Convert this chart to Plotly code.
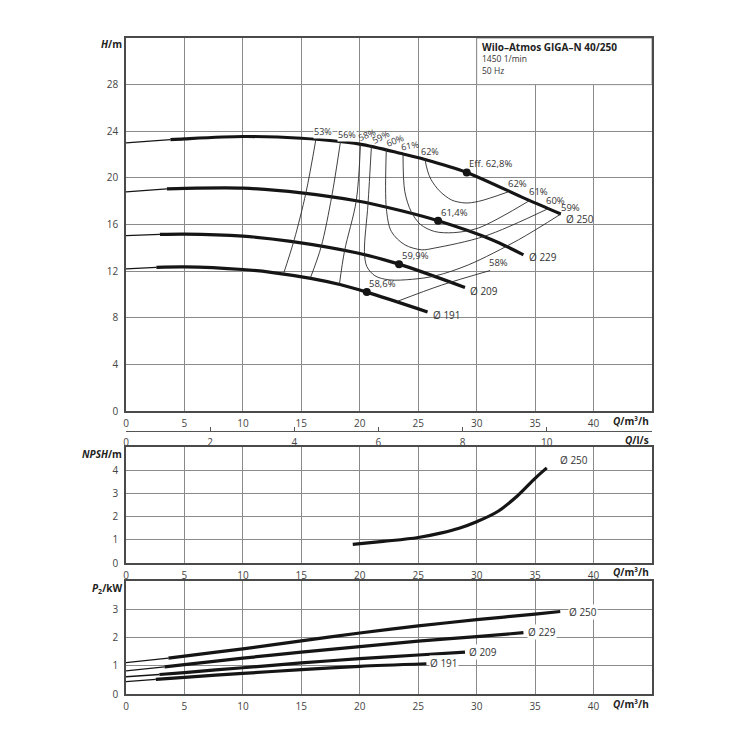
import plotly.graph_objects as go

# ---------------- data ----------------
# Head curves H(Q); index 1 is where the thick (operating) part starts
q250 = [0, 3.8, 5, 10, 15, 20, 23.7, 25.5, 29.15, 34.2, 37.2]
h250 = [23.0, 23.28, 23.35, 23.55, 23.4, 22.9, 22.05, 21.6, 20.47, 18.2, 16.9]
q229 = [0, 3.5, 5, 10, 15, 19.7, 23.56, 26.7, 31.3, 34.0]
h229 = [18.8, 19.05, 19.1, 19.12, 18.72, 18.04, 17.18, 16.32, 14.7, 13.4]
q209 = [0, 2.9, 5, 10, 14.1, 19.8, 23.36, 29.0]
h209 = [15.05, 15.15, 15.18, 15.0, 14.55, 13.55, 12.6, 10.6]
q191 = [0, 2.6, 5, 10, 12.4, 15.8, 18.3, 20.6, 25.8]
h191 = [12.2, 12.33, 12.37, 12.14, 11.9, 11.38, 10.85, 10.2, 8.5]

diam_labels = ["Ø 250", "Ø 229", "Ø 209", "Ø 191"]

# best-efficiency points
bep_q = [29.15, 26.7, 23.36, 20.6]
bep_h = [20.47, 16.32, 12.6, 10.2]
bep_txt = ["Eff. 62,8%", "61,4%", "59,9%", "58,6%"]

# iso-efficiency lines
eff53_q = [16.25, 15.39, 14.39, 13.47]
eff53_h = [23.33, 18.7, 14.69, 11.75]
eff56_q = [18.34, 17.6, 16.7, 15.76]
eff56_h = [23.05, 18.4, 14.1, 11.38]
eff58a_q = [20.06, 19.7, 18.7, 18.26]
eff58a_h = [22.9, 18.04, 13.75, 10.88]
eff58b_q = [23.2, 27.0, 31.15]
eff58b_h = [9.4, 10.8, 12.05]
eff59_q = [21.0, 20.7, 20.4, 20.6, 21.3, 22.5, 24.5, 26.5, 29.3, 33.6, 37.2]
eff59_h = [22.8, 17.7, 13.7, 12.4, 11.6, 11.25, 11.3, 11.6, 12.54, 14.7, 16.9]
eff60_q = [22.27, 22.27, 22.7, 23.85, 25.3, 26.4, 30.7, 36.2]
eff60_h = [22.45, 17.41, 15.4, 14.26, 13.83, 13.98, 15.0, 17.4]
eff61_q = [23.7, 23.85, 24.4, 25.2, 26.4, 28.0, 30.15, 34.6]
eff61_h = [22.05, 18.84, 17.1, 16.0, 15.4, 15.3, 15.7, 18.1]
eff62_q = [25.56, 25.8, 26.1, 26.8, 27.86, 29.0, 30.15, 32.7]
eff62_h = [21.65, 20.6, 19.85, 18.9, 18.1, 17.85, 17.98, 18.8]

# NPSH (Ø 250)
npsh_q = [19.4, 22.0, 25.0, 27.0, 28.5, 30.0, 31.8, 33.5, 35.0, 36.0]
npsh_v = [0.8, 0.93, 1.1, 1.3, 1.5, 1.78, 2.22, 2.9, 3.65, 4.1]

# Power P2; index 1 is where the thick part starts
p250_q = [0, 3.63, 5, 10, 15, 20, 25, 30, 35, 37.15]
p250_v = [1.11, 1.27, 1.34, 1.6, 1.88, 2.16, 2.41, 2.63, 2.83, 2.92]
p229_q = [0, 3.3, 5, 10, 15, 20, 25, 30, 34.0]
p229_v = [0.82, 0.96, 1.04, 1.27, 1.48, 1.68, 1.87, 2.03, 2.17]
p209_q = [0, 2.86, 5, 10, 15, 20, 25, 29.0]
p209_v = [0.61, 0.69, 0.76, 0.93, 1.1, 1.25, 1.38, 1.48]
p191_q = [0, 2.55, 5, 10, 15, 20, 25.7]
p191_v = [0.44, 0.52, 0.59, 0.73, 0.86, 0.98, 1.07]

q_ticks = [0, 5, 10, 15, 20, 25, 30, 35, 40]
h_ticks = [0, 4, 8, 12, 16, 20, 24, 28]
npsh_ticks = [0, 1, 2, 3, 4]
p_ticks = [0, 1, 2, 3]
ls_ticks = [0, 2, 4, 6, 8, 10]

# ---------------- figure ----------------
FONT = "Open Sans"
TXT = "#333333"
CURVE = "#151515"
GRID = "#8a8a8a"
FRAME = "#4a4a4a"

fig = go.Figure()


def curve(qs, vs, xa, ya):
    fig.add_trace(go.Scatter(x=qs[:2], y=vs[:2], mode="lines", xaxis=xa, yaxis=ya,
                             line=dict(color=CURVE, width=1.3, shape="spline"),
                             hoverinfo="skip", showlegend=False))
    fig.add_trace(go.Scatter(x=qs[1:], y=vs[1:], mode="lines", xaxis=xa, yaxis=ya,
                             line=dict(color=CURVE, width=3.2, shape="spline", smoothing=0.8),
                             hoverinfo="skip", showlegend=False))


for qs, hs in [(q250, h250), (q229, h229), (q209, h209), (q191, h191)]:
    curve(qs, hs, "x", "y")

for qs, hs in [(eff53_q, eff53_h), (eff56_q, eff56_h), (eff58a_q, eff58a_h), (eff58b_q, eff58b_h),
               (eff59_q, eff59_h), (eff60_q, eff60_h), (eff61_q, eff61_h), (eff62_q, eff62_h)]:
    fig.add_trace(go.Scatter(x=qs, y=hs, mode="lines", xaxis="x", yaxis="y",
                             line=dict(color="#2a2a2a", width=0.9, shape="spline", smoothing=0.9),
                             hoverinfo="skip", showlegend=False))

fig.add_trace(go.Scatter(x=bep_q, y=bep_h, mode="markers", xaxis="x", yaxis="y",
                         marker=dict(color=CURVE, size=8), hoverinfo="skip", showlegend=False))

# NPSH
fig.add_trace(go.Scatter(x=npsh_q, y=npsh_v, mode="lines", xaxis="x2", yaxis="y2",
                         line=dict(color=CURVE, width=3.2, shape="spline"),
                         hoverinfo="skip", showlegend=False))

# Power
for qs, vs in [(p250_q, p250_v), (p229_q, p229_v), (p209_q, p209_v), (p191_q, p191_v)]:
    curve(qs, vs, "x3", "y3")

# empty trace so that the l/s axis is drawn
fig.add_trace(go.Scatter(x=[0], y=[0], mode="lines", xaxis="x4", yaxis="y",
                         line=dict(width=0), hoverinfo="skip", showlegend=False))

# ---------------- annotations ----------------
ann = []


def txt(x, y, s, xref="x", yref="y", size=9.5, xanchor="center", angle=0, bg=None, color=TXT):
    d = dict(x=x, y=y, text=s, xref=xref, yref=yref, showarrow=False, xanchor=xanchor,
             yanchor="middle", textangle=angle, font=dict(family=FONT, size=size, color=color))
    if bg:
        d["bgcolor"] = bg
        d["borderpad"] = 0
    ann.append(d)


# top labels of iso-efficiency lines
top_lbl = [("53%", 16.83, 23.94, 0, "white"), ("56%", 18.92, 23.72, 0, "white"),
           ("58%", 20.65, 23.7, -22, None), ("59%", 21.85, 23.52, -28, None),
           ("60%", 23.0, 23.22, -22, None), ("61%", 24.3, 22.8, -10, None),
           ("62%", 26.0, 22.28, 0, None)]
for s, x, y, a, bg in top_lbl:
    txt(x, y, s, angle=a, bg=bg, size=9)

# right-end efficiency labels
for s, x, y in [("62%", 33.5, 19.56), ("61%", 35.3, 18.79), ("60%", 36.74, 18.04),
                ("59%", 38.03, 17.5), ("58%", 31.87, 12.77)]:
    txt(x, y, s)

# BEP labels
for s, x, y in zip(bep_txt, [31.15, 28.08, 24.79, 21.98], [21.2, 17.04, 13.32, 10.91]):
    txt(x, y, s)

# diameter labels on H curves
for s, x, y in zip(diam_labels, [37.5, 34.3, 29.3, 26.05], [16.45, 13.2, 10.33, 8.25]):
    txt(x, y, s, xanchor="left", size=10)

# NPSH label
txt(37.0, 4.43, "Ø 250", xref="x2", yref="y2", xanchor="left", size=10)

# power labels
for s, x, y in zip(diam_labels, [37.8, 34.3, 29.3, 25.95], [2.9, 2.18, 1.5, 1.08]):
    txt(x, y, s, xref="x3", yref="y3", xanchor="left", size=10, bg="white")


# axis titles (positions given in the picture's plot-area pixels)
def pap(px, py):
    return (px - 126) / 526, (694 - py) / 656


for s, px, py, xa in [("<b><i>H</i>/m</b>", 124, 44, "right"),
                      ("<b><i>NPSH</i>/m</b>", 124, 454, "right"),
                      ("<b><i>P</i><sub>2</sub>/kW</b>", 124, 588, "right"),
                      ("<b><i>Q</i>/m³/h</b>", 651, 421, "right"),
                      ("<b><i>Q</i>/m³/h</b>", 651, 572, "right"),
                      ("<b><i>Q</i>/m³/h</b>", 651, 704, "right"),
                      ("<b><i>Q</i>/l/s</b>", 651, 440, "right")]:
    x, y = pap(px, py)
    txt(x, y, s, xref="paper", yref="paper", xanchor=xa, size=10, color="#222")

# title block
x, y = pap(480, 47)
txt(x, y, "<b>Wilo–Atmos GIGA–N 40/250</b>", xref="paper", yref="paper", xanchor="left", size=10, color="#222")
x, y = pap(480, 59)
txt(x, y, "1450 1/min", xref="paper", yref="paper", xanchor="left", size=8.5)
x, y = pap(480, 70)
txt(x, y, "50 Hz", xref="paper", yref="paper", xanchor="left", size=8.5)


# ---------------- axes ----------------
def xax(domain_anchor):
    return dict(range=[0, 45], tickvals=q_ticks, showgrid=True, gridcolor=GRID, gridwidth=1,
                zeroline=False, showline=True, linecolor=FRAME, linewidth=1.5, mirror=True,
                ticks="", ticklabelstandoff=2, anchor=domain_anchor, domain=[0, 1],
                tickfont=dict(family=FONT, size=10, color="#444"), fixedrange=True)


def yax(rng, ticks, dom, anchor):
    return dict(range=rng, tickvals=ticks, showgrid=True, gridcolor=GRID, gridwidth=1,
                zeroline=False, showline=True, linecolor=FRAME, linewidth=1.5, mirror=True,
                ticks="", ticklabelstandoff=4, domain=dom, anchor=anchor,
                tickfont=dict(family=FONT, size=10, color="#444"), fixedrange=True)


# the page body adds an 8 px offset, so margins are reduced accordingly
fig.update_layout(
    width=750, height=750,
    margin=dict(l=118, r=106, t=30, b=64),
    paper_bgcolor="white", plot_bgcolor="white",
    showlegend=False,
    xaxis=xax("y"),
    xaxis2=xax("y2"),
    xaxis3=xax("y3"),
    xaxis4=dict(range=[0, 45 / 3.6], tickvals=ls_ticks, overlaying="x", anchor="free",
                position=(694 - 431) / 656, side="bottom", showgrid=False, zeroline=False,
                showline=True, linecolor="#555", linewidth=1, ticks="inside", ticklen=4,
                tickcolor="#555", ticklabelstandoff=2,
                tickfont=dict(family=FONT, size=10, color="#444"), fixedrange=True),
    yaxis=yax([0, 32], h_ticks, [(694 - 411) / 656, 1], "x"),
    yaxis2=yax([0, 5], npsh_ticks, [(694 - 563) / 656, (694 - 447) / 656], "x2"),
    yaxis3=yax([0, 4], p_ticks, [0, (694 - 581) / 656], "x3"),
    annotations=ann,
    shapes=[dict(type="rect", xref="x", yref="y", x0=30, x1=45, y0=28, y1=32,
                 fillcolor="white", line=dict(color=GRID, width=1), layer="between")],
)

fig.write_html("out.html")
